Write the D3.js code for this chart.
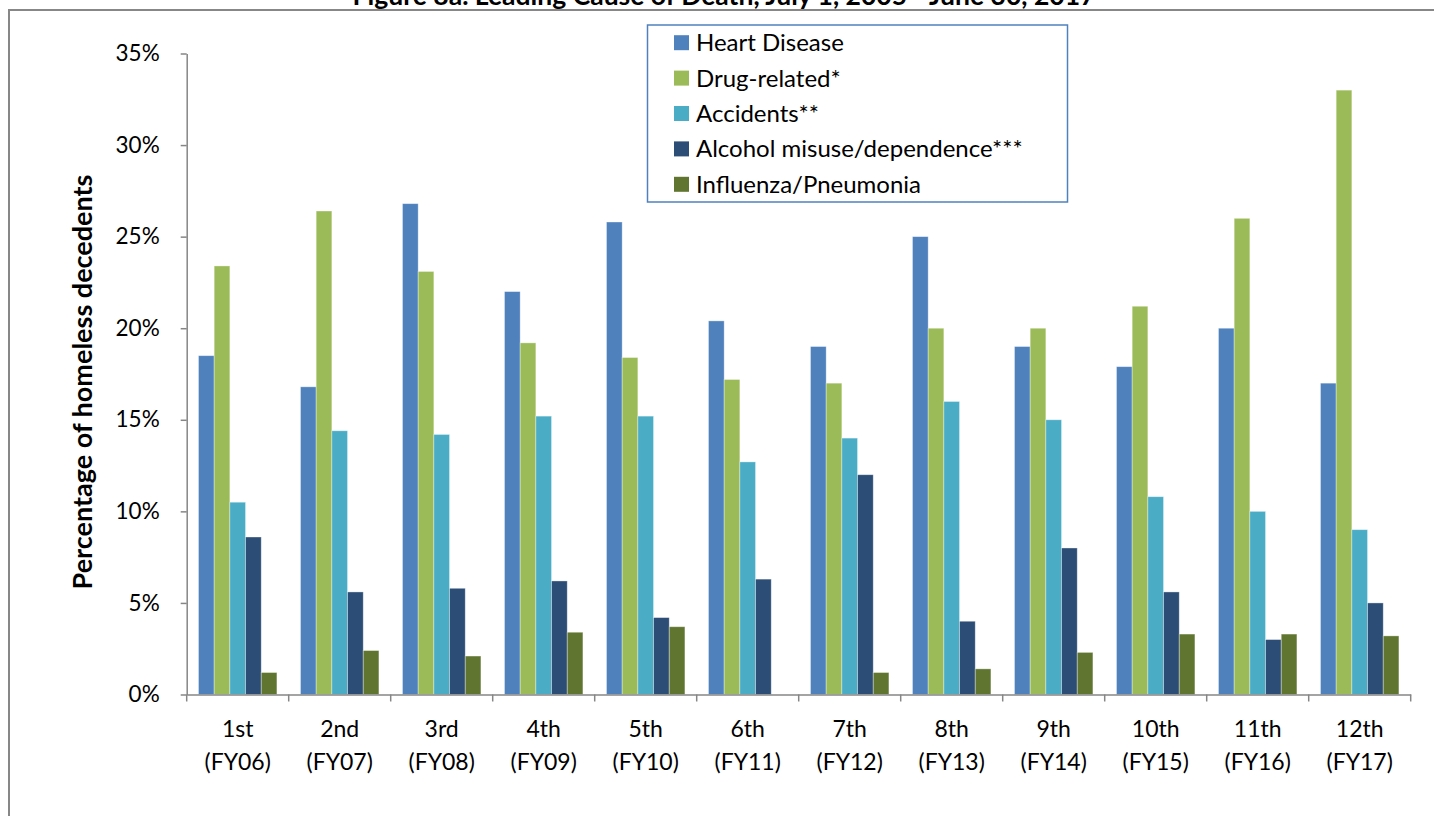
<!DOCTYPE html>
<html>
<head>
<meta charset="utf-8">
<script src="https://cdn.jsdelivr.net/npm/d3@7"></script>
<style>
  html, body { margin: 0; padding: 0; background: #fff; overflow: hidden; }
  svg { display: block; }
  text { font-family: Lato, "Open Sans", sans-serif; fill: #000; }
</style>
</head>
<body>
<svg id="chart" width="1434" height="816"></svg>
<script>
// ---- data ----
const titleText = "Figure 8a. Leading Cause of Death, July 1, 2005 - June 30, 2017";
const yAxisTitle = "Percentage of homeless decedents";
const categories = ["1st","2nd","3rd","4th","5th","6th","7th","8th","9th","10th","11th","12th"];
const fiscalYears = ["(FY06)","(FY07)","(FY08)","(FY09)","(FY10)","(FY11)","(FY12)","(FY13)","(FY14)","(FY15)","(FY16)","(FY17)"];
const seriesNames = ["Heart Disease","Drug-related*","Accidents**","Alcohol misuse/dependence***","Influenza/Pneumonia"];
const heartDisease = [18.5, 16.8, 26.8, 22.0, 25.8, 20.4, 19.0, 25.0, 19.0, 17.9, 20.0, 17.0];
const drugRelated  = [23.4, 26.4, 23.1, 19.2, 18.4, 17.2, 17.0, 20.0, 20.0, 21.2, 26.0, 33.0];
const accidents    = [10.5, 14.4, 14.2, 15.2, 15.2, 12.7, 14.0, 16.0, 15.0, 10.8, 10.0, 9.0];
const alcohol      = [8.6, 5.6, 5.8, 6.2, 4.2, 6.3, 12.0, 4.0, 8.0, 5.6, 3.0, 5.0];
const influenza    = [1.2, 2.4, 2.1, 3.4, 3.7, 0, 1.2, 1.4, 2.3, 3.3, 3.3, 3.2];
const yTicks = [0, 5, 10, 15, 20, 25, 30, 35];
const seriesColors = ["#4F81BD", "#9BBB59", "#4BACC6", "#2C4D75", "#5F7530"];

const seriesValues = [heartDisease, drugRelated, accidents, alcohol, influenza];
const table = categories.map((c, i) => ({
  cat: c, fy: fiscalYears[i],
  vals: seriesNames.map((s, j) => ({ series: s, value: seriesValues[j][i], color: seriesColors[j] }))
}));

// ---- layout ----
const svg = d3.select("#chart");
const axisColor = "#868686";
const plot = { left: 186.7, right: 1410.7, top: 53.5, bottom: 694.5 };

// outer chart border (extends past viewport on right/bottom)
svg.append("rect")
  .attr("x", 9).attr("y", 10)
  .attr("width", 1500).attr("height", 900)
  .attr("fill", "none").attr("stroke", "#878787").attr("stroke-width", 2);

// title (cut off at top, as in reference)
svg.append("text")
  .attr("x", 724).attr("y", 5)
  .attr("text-anchor", "middle")
  .style("font-weight", "bold").style("font-size", "26.5px")
  .text(titleText);

const x0 = d3.scaleBand().domain(categories).range([plot.left, plot.right])
  .paddingInner(0.231).paddingOuter(0.1155);
const x1 = d3.scaleBand().domain(seriesNames).range([0, x0.bandwidth()]).padding(0);
const y = d3.scaleLinear().domain([0, 35]).range([plot.bottom, plot.top]);

// bars
const groups = svg.append("g").selectAll("g").data(table).join("g")
  .attr("transform", d => `translate(${x0(d.cat)},0)`);
groups.selectAll("rect").data(d => d.vals.filter(v => v.value > 0)).join("rect")
  .attr("x", d => x1(d.series))
  .attr("y", d => y(d.value))
  .attr("width", x1.bandwidth())
  .attr("height", d => y(0) - y(d.value))
  .attr("fill", d => d.color)
  .attr("stroke", "#ffffff").attr("stroke-opacity", 0.45).attr("stroke-width", 0.8);

// y axis
const yAxis = svg.append("g").attr("transform", `translate(${plot.left},0)`)
  .call(d3.axisLeft(y).tickValues(yTicks).tickFormat(d => d + "%").tickSize(6).tickSizeOuter(0).tickPadding(21));
yAxis.select(".domain").attr("stroke", axisColor).attr("stroke-width", 1.5);
yAxis.selectAll(".tick line").attr("stroke", axisColor).attr("stroke-width", 1.5);
yAxis.selectAll(".tick text")
  .style("font-size", "22.5px").style("font-family", "Lato, sans-serif").attr("fill", "#000");

// x axis line
const xAxis = svg.append("g").attr("transform", `translate(0,${plot.bottom})`)
  .call(d3.axisBottom(x0).tickSize(0).tickSizeOuter(0).tickFormat(""));
xAxis.select(".domain").attr("stroke", axisColor).attr("stroke-width", 1.5);

// boundary ticks between groups
const step = x0.step();
const boundaries = categories.map(c => x0(c) - step * x0.paddingInner() / 2)
  .concat([x0(categories[categories.length - 1]) + x0.bandwidth() + step * x0.paddingInner() / 2]);
svg.append("g").selectAll("line").data(boundaries).join("line")
  .attr("x1", d => d).attr("x2", d => d)
  .attr("y1", plot.bottom).attr("y2", plot.bottom + 7)
  .attr("stroke", axisColor).attr("stroke-width", 1.5);

// category labels (two lines)
const labels = svg.append("g").selectAll("text").data(table).join("text")
  .attr("text-anchor", "middle")
  .style("font-size", "23px");
labels.append("tspan")
  .attr("x", d => x0(d.cat) + x0.bandwidth() / 2).attr("y", 737)
  .text(d => d.cat);
labels.append("tspan")
  .attr("x", d => x0(d.cat) + x0.bandwidth() / 2).attr("y", 770)
  .text(d => d.fy);

// y axis title
svg.append("text")
  .attr("transform", `translate(92,${382}) rotate(-90)`)
  .attr("text-anchor", "middle")
  .style("font-weight", "bold").style("font-size", "27px")
  .text(yAxisTitle);

// legend
const legend = svg.append("g");
legend.append("rect")
  .attr("x", 647.5).attr("y", 25).attr("width", 420).attr("height", 177)
  .attr("fill", "#fff").attr("stroke", "#4F81BD").attr("stroke-width", 1.5);
const items = legend.selectAll("g.item").data(seriesNames).join("g").attr("class", "item")
  .attr("transform", (d, i) => `translate(674,${42.7 + i * 35.4})`);
items.append("rect")
  .attr("x", 0).attr("y", -7.5).attr("width", 15).attr("height", 15)
  .attr("fill", (d, i) => seriesColors[i]);
items.append("text")
  .attr("x", 22).attr("y", 0).attr("dy", "0.35em")
  .style("font-size", "24px")
  .text(d => d);
</script>
</body>
</html>
